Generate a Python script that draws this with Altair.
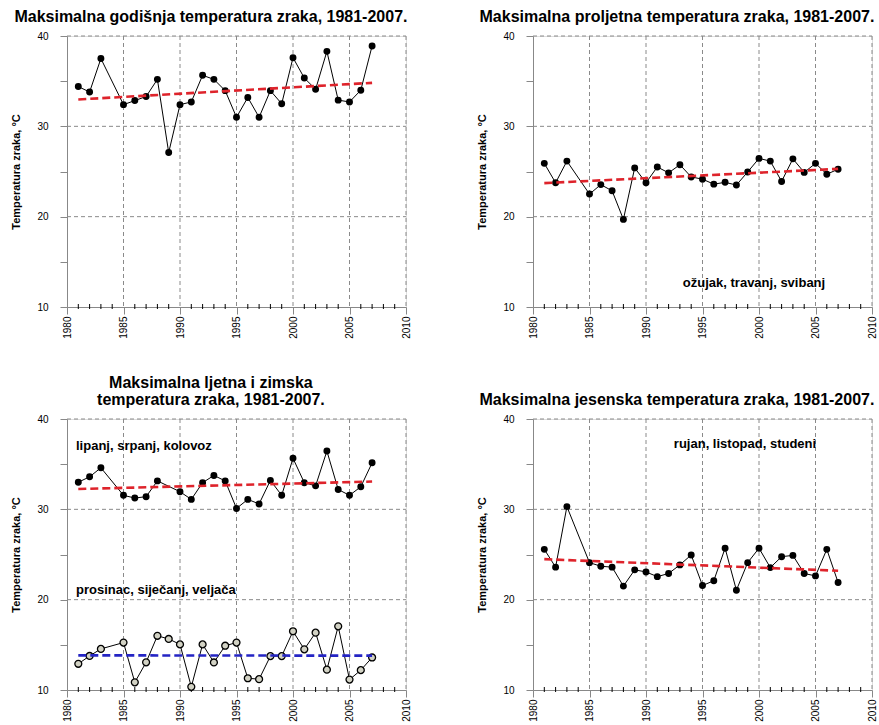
import altair as alt
import pandas as pd

# Godine mjerenja (1984. nema podataka; ljeto 1989. također nedostaje)
years = list(range(1981, 2008))

annual = [34.4, 33.8, 37.5, None, 32.4, 32.85, 33.3, 35.2, 27.1, 32.4,
          32.7, 35.65, 35.2, 33.95, 31.0, 33.2, 31.0, 33.95, 32.5, 37.6,
          35.35, 34.1, 38.3, 32.9, 32.7, 34.0, 38.9]
spring = [25.9, 23.75, 26.15, None, 22.5, 23.55, 22.86, 19.7, 25.4, 23.75,
          25.5, 24.85, 25.75, 24.4, 24.15, 23.6, 23.8, 23.5, 24.95, 26.45,
          26.15, 23.9, 26.4, 24.9, 25.9, 24.7, 25.25]
summer = [33.0, 33.6, 34.6, None, 31.55, 31.25, 31.4, 33.15, None, 31.95,
          31.1, 32.95, 33.75, 33.15, 30.1, 31.1, 30.6, 33.2, 31.55, 35.65,
          32.95, 32.6, 36.45, 32.2, 31.55, 32.5, 35.15]
winter = [12.9, 13.77, 14.55, None, 15.25, 10.85, 13.06, 16.0, 15.65, 15.05,
          10.35, 15.05, 13.05, 14.9, 15.25, 11.3, 11.2, 13.75, 13.75, 16.5,
          14.5, 16.35, 12.25, 17.05, 11.15, 12.2, 13.6]
autumn = [25.57, 23.6, 30.3, None, 24.1, 23.7, 23.6, 21.5, 23.3, 23.07,
          22.55, 22.9, 23.85, 24.95, 21.56, 22.1, 25.7, 21.05, 24.1, 25.7,
          23.55, 24.76, 24.9, 22.9, 22.63, 25.57, 21.9]

year_ticks = list(range(1980, 2011, 5))
year_grid = list(range(1985, 2011, 5))
minor_years = [y for y in range(1981, 2010) if y % 5]
temp_ticks = list(range(10, 41, 5))
temp_grid = [20, 30, 40]

W, H = 339, 271
FONT = "Liberation Sans"
RED = "#de232b"
BLUE = "#2424c4"
GRID = "#8a8a8a"

x_scale = alt.Scale(domain=[1980, 2010], nice=False, zero=False)
y_scale = alt.Scale(domain=[10, 40], nice=False, zero=False)

x_axis = alt.Axis(values=year_ticks, title=None, labelAngle=270, format="d",
                  tickSize=7, labelPadding=2, grid=False)
y_axis = alt.Axis(values=temp_ticks, title="Temperatura zraka, °C",
                  labelExpr="datum.value % 10 === 0 ? datum.label : ''",
                  tickSize=7, labelPadding=12, titlePadding=15, grid=False)

X = alt.X("godina:Q", scale=x_scale, axis=x_axis)
Y = alt.Y("temp:Q", scale=y_scale, axis=y_axis)


def frame(values):
    return pd.DataFrame({"godina": years, "temp": values}).dropna()


def grid():
    vert = (alt.Chart(pd.DataFrame({"godina": year_grid}))
            .mark_rule(color=GRID, strokeWidth=1, strokeDash=[4, 3])
            .encode(x=X, y=alt.value(0), y2=alt.value(H)))
    horiz = (alt.Chart(pd.DataFrame({"temp": temp_grid}))
             .mark_rule(color=GRID, strokeWidth=1, strokeDash=[4, 3])
             .encode(y=Y, x=alt.value(0), x2=alt.value(W)))
    return [vert, horiz]


def series(values, trend_color, hollow=False):
    df = frame(values)
    line = alt.Chart(df).mark_line(color="black", strokeWidth=1).encode(x=X, y=Y)
    if hollow:
        pts = alt.Chart(df).mark_point(shape="circle", filled=True, fill="#d2d2c4",
                                       stroke="black", strokeWidth=1.3, size=48,
                                       opacity=1).encode(x=X, y=Y)
    else:
        pts = alt.Chart(df).mark_point(shape="circle", filled=True, color="black",
                                       size=48, opacity=1).encode(x=X, y=Y)
    trend = (alt.Chart(df)
             .transform_regression("godina", "temp")
             .mark_line(color=trend_color, strokeWidth=2.6, strokeDash=[8, 4])
             .encode(x=X, y=Y))
    return [line, pts, trend]


def minor_ticks():
    return (alt.Chart(pd.DataFrame({"godina": minor_years}))
            .mark_rule(color="black", strokeWidth=1)
            .encode(x=X, y=alt.value(H - 3), y2=alt.value(H + 2)))


def note(text, x, y, align):
    return (alt.Chart(pd.DataFrame({"t": [text]}))
            .mark_text(font=FONT, fontSize=13, fontWeight="bold", color="black",
                       align=align, baseline="middle")
            .encode(x=alt.value(x), y=alt.value(y), text="t:N"))


def title(text):
    return alt.TitleParams(text, font=FONT, fontSize=16, fontWeight="bold",
                           color="black", anchor="middle", frame="bounds",
                           offset=6, lineHeight=17)


def panel(title_text, layers):
    return alt.layer(*grid(), minor_ticks(), *layers).properties(
        width=W, height=H, title=title(title_text))


p1 = panel("Maksimalna godišnja temperatura zraka, 1981-2007.",
           series(annual, RED))
p2 = panel("Maksimalna proljetna temperatura zraka, 1981-2007.",
           series(spring, RED) + [note("ožujak, travanj, svibanj", 221, 247, "center")])
p3 = panel(["Maksimalna ljetna i zimska", "temperatura zraka, 1981-2007."],
           series(summer, RED) + series(winter, BLUE, hollow=True)
           + [note("lipanj, srpanj, kolovoz", 9, 27, "left"),
              note("prosinac, siječanj, veljača", 9, 171, "left")])
p4 = panel("Maksimalna jesenska temperatura zraka, 1981-2007.",
           series(autumn, RED) + [note("rujan, listopad, studeni", 212, 25, "center")])

chart = (alt.concat(p1, p2, p3, p4, columns=2,
                    spacing={"row": 35, "column": 64})
         .properties(padding={"left": 10, "top": 8, "right": 0, "bottom": 0})
         .configure_axis(labelFont=FONT, labelFontSize=11, labelColor="#333333",
                         titleFont=FONT, titleFontSize=13, titleFontWeight="bold",
                         titleColor="black", domainColor="black", domainWidth=1.5,
                         tickColor="black", tickWidth=1)
         .configure_view(stroke=None)
         .configure(background="white"))

chart.save("out.html", embed_options={"renderer": "svg", "actions": False})
